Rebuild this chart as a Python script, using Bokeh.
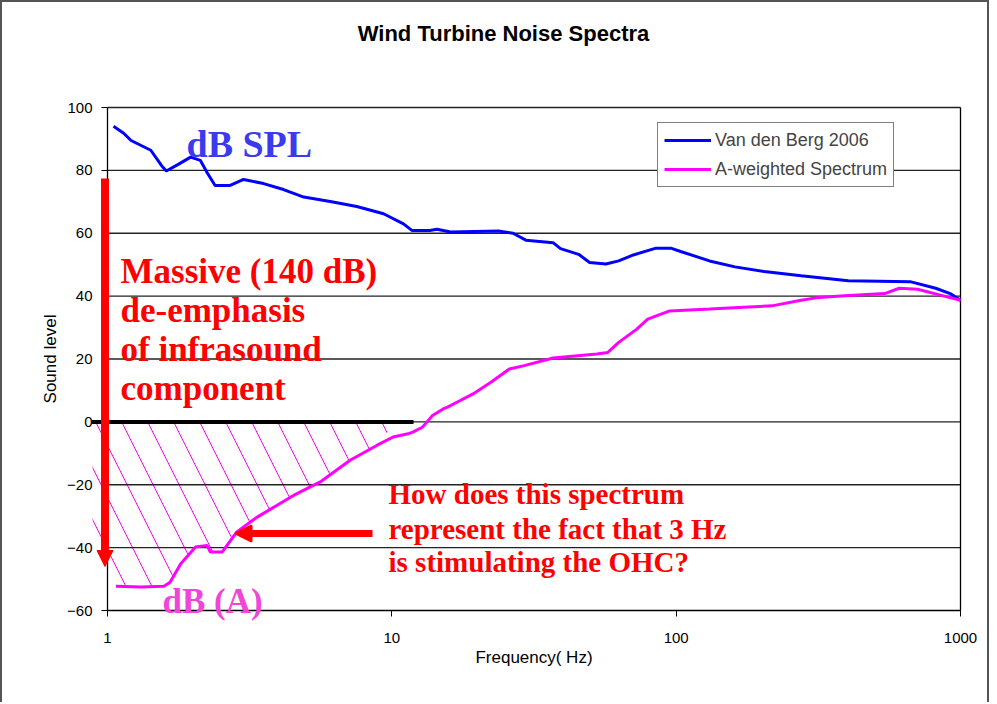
from bokeh.plotting import figure
from bokeh.models import (Arrow, NormalHead, PolyAnnotation, Label, FixedTicker,
                          PrintfTickFormatter, Range1d)
from bokeh.embed import file_html
from bokeh.resources import INLINE

# ---- data ----
vdb_freq = [1.05, 1.14, 1.21, 1.42, 1.55, 1.61, 1.78, 1.96, 2.12, 2.25, 2.39, 2.70,
            3.01, 3.54, 4.16, 4.90, 6.07, 7.53, 9.35, 10.99, 11.76, 13.6, 14.4, 16.1,
            23.7, 26.7, 29.6, 36.9, 39.2, 45.4, 49.6, 56.6, 62.8, 70.7, 84.4, 96.3,
            103.7, 131, 161, 204, 275, 403, 665, 818, 920, 1000]
vdb_level = [94.0, 91.8, 89.5, 86.4, 81.5, 79.8, 82.0, 84.2, 83.2, 79.0, 75.2, 75.2,
             77.1, 75.8, 73.9, 71.5, 70.1, 68.5, 66.2, 63.0, 60.9, 60.9, 61.3, 60.4,
             60.7, 60.0, 57.8, 57.0, 55.1, 53.3, 50.7, 50.2, 51.2, 53.1, 55.2, 55.2,
             54.2, 51.2, 49.3, 47.8, 46.5, 44.9, 44.6, 42.5, 40.8, 38.7]

aw_freq = [1.07, 1.31, 1.58, 1.66, 1.81, 2.04, 2.24, 2.30, 2.53, 2.85, 3.36, 4.51,
           5.60, 7.13, 8.85, 10.1, 11.4, 11.9, 12.8, 13.3, 13.9, 15.2, 15.7, 17.4,
           19.3, 22.3, 25.9, 29.2, 36.9, 52.6, 57.5, 62.8, 72.7, 79.4, 94.9, 131,
           166, 217, 275, 318, 391, 541, 609, 706, 843, 1000]
aw_level = [-52.3, -52.5, -52.3, -51.0, -45.1, -39.8, -39.3, -41.4, -41.4, -35.0, -30.3, -23.4,
            -19.1, -12.2, -7.5, -4.8, -3.8, -3.2, -1.7, 0.0, 2.0, 4.2, 4.7, 6.8,
            8.9, 12.6, 16.8, 17.9, 20.3, 21.6, 22.1, 25.3, 29.5, 32.7, 35.3, 35.9,
            36.4, 36.9, 38.7, 39.6, 40.1, 40.8, 42.5, 42.2, 40.4, 38.7]

hatch_freq = [0.886, 10.3, 8.85, 7.13, 5.60, 4.51, 3.36, 2.85, 2.53, 2.30, 2.24, 2.04,
              1.81, 1.66, 1.58, 1.07, 0.886]
hatch_level = [0, 0, -7.5, -12.2, -19.1, -23.4, -30.3, -35.0, -41.4, -41.4, -39.3, -39.8,
               -45.1, -51.0, -52.3, -52.3, -44]

x_ticks = [1, 10, 100, 1000]
y_ticks = [-60, -40, -20, 0, 20, 40, 60, 80, 100]
grid_levels = [-40, -20, 0, 20, 40, 60, 80, 100]

SERIF = "Liberation Serif"
SANS = "Liberation Sans"

# ---- layout (page pixels) ----
W, H = 989, 702          # canvas size (plus a 2px frame border drawn by CSS)
OFF = 2                  # canvas offset caused by the border
FL, FR, FT, FB = 30, 988, 12, 690    # frame box
PX_F1, PX_F1000 = 107, 960           # x of 1 Hz and 1000 Hz
PX_Y100, PX_YM60 = 107, 610          # y of 100 and -60
decade = (PX_F1000 - PX_F1) / 3.0
upp = 160.0 / (PX_YM60 - PX_Y100)
x_start = 10 ** (-(PX_F1 - FL) / decade)
x_end = 10 ** (3 + (FR - PX_F1000) / decade)
y_end = 100 + (PX_Y100 - FT) * upp
y_start = -60 - (FB - PX_YM60) * upp

def fx(px):
    return 10 ** ((px - PX_F1) / decade)

def fy(py):
    return 100 - (py - PX_Y100) * upp

p = figure(width=W, height=H, x_axis_type="log",
           x_range=Range1d(x_start, x_end), y_range=Range1d(y_start, y_end),
           output_backend="svg", toolbar_location=None,
           min_border_left=FL - OFF, min_border_right=W - (FR - OFF),
           min_border_top=FT - OFF, min_border_bottom=H - (FB - OFF),
           background_fill_color="white", border_fill_color="white")
p.styles = {"border-left": "2px solid #555", "border-top": "2px solid #555",
            "border-right": "2px solid #555"}

p.outline_line_color = None
p.xgrid.visible = False
p.ygrid.visible = False

# horizontal grid lines across the plot area only
p.segment(x0=[x_ticks[0]] * len(grid_levels), x1=[x_ticks[-1]] * len(grid_levels),
          y0=grid_levels, y1=grid_levels, line_color="#222222", line_width=1.3)
# right border of the plot area
p.segment(x0=[x_ticks[-1]], x1=[x_ticks[-1]], y0=[y_ticks[0]], y1=[y_ticks[-1]],
          line_color="black", line_width=1.3)

p.xaxis.ticker = FixedTicker(ticks=x_ticks, minor_ticks=[])
p.xaxis.formatter = PrintfTickFormatter(format="%d")
p.yaxis.ticker = FixedTicker(ticks=y_ticks, minor_ticks=[])
p.xaxis.fixed_location = y_ticks[0]
p.yaxis.fixed_location = x_ticks[0]
p.xaxis.bounds = (x_ticks[0], x_ticks[-1])
p.yaxis.bounds = (y_ticks[0], y_ticks[-1])
for ax in (p.xaxis, p.yaxis):
    ax.axis_line_color = "black"
    ax.axis_line_width = 1.3
    ax.major_tick_line_color = "black"
    ax.major_tick_in = 0
    ax.major_tick_out = 6
    ax.minor_tick_line_color = None
    ax.major_label_text_font = SANS
    ax.major_label_text_font_size = "15px"
    ax.major_label_text_color = "black"
    ax.axis_label_text_font = SANS
    ax.axis_label_text_font_size = "17px"
    ax.axis_label_text_font_style = "normal"
    ax.axis_label_text_color = "black"
p.xaxis.major_label_standoff = 16
p.yaxis.major_label_standoff = 9
p.xaxis.axis_label = "Frequency( Hz)"
p.yaxis.axis_label = "Sound level"
p.xaxis.axis_label_standoff = 2
p.yaxis.axis_label_standoff = 4

# hatched region (hand-drawn in the original)
p.add_layout(PolyAnnotation(xs=hatch_freq, ys=hatch_level, fill_alpha=0,
                            line_color=None, hatch_pattern="left_diagonal_line",
                            hatch_color="#FF00FF", hatch_weight=1, hatch_scale=52,
                            level="underlay"))

p.line(vdb_freq, vdb_level, line_color="#0000FF", line_width=3, legend_label="Van den Berg 2006")
p.line(aw_freq, aw_level, line_color="#FF00FF", line_width=3, legend_label="A-weighted Spectrum")

# black bar along 0 dB
p.add_layout(Arrow(end=None, x_start=fx(91), y_start=0, x_end=fx(413), y_end=0,
                   line_color="black", line_width=4))
# red vertical arrow
p.add_layout(Arrow(end=NormalHead(size=16, fill_color="red", line_color="red"),
                   x_start=fx(104.5), y_start=fy(178), x_end=fx(104.5), y_end=fy(566),
                   line_color="red", line_width=8))
# red horizontal arrow
p.add_layout(Arrow(end=NormalHead(size=16, fill_color="red", line_color="red", line_width=2),
                   x_start=fx(372), y_start=fy(533), x_end=fx(235), y_end=fy(533),
                   line_color="red", line_width=7))

def lab(px, base_py, text, size, color, font=SERIF, style="bold", align="left"):
    # empirical correction: the rendered alphabetic baseline sits ~0.32em low
    py = base_py - 0.32 * size
    p.add_layout(Label(x=fx(px), y=fy(py), text=text, text_font=font,
                       text_font_size=f"{size}px", text_font_style=style,
                       text_color=color, text_align=align, text_baseline="alphabetic"))

lab(503, 40, "Wind Turbine Noise Spectra", 22, "black", font=SANS, align="center")
lab(186, 156, "dB SPL", 38, "#3A3AF0")
lab(162, 612, "dB (A)", 35, "#F045D8")
for by, t in zip([282, 321, 360, 399],
                 ["Massive (140 dB)", "de-emphasis", "of infrasound", "component"]):
    lab(120, by, t, 35, "red")
for by, t in zip([503, 538, 571],
                 ["How does this spectrum", "represent the fact that 3 Hz",
                  "is stimulating the OHC?"]):
    lab(388, by, t, 29, "red")

lg = p.legend[0]
lg.location = (657 - FL, FB - 187)
lg.border_line_color = "black"
lg.border_line_width = 1
lg.background_fill_color = "white"
lg.background_fill_alpha = 1
lg.label_text_font = SANS
lg.label_text_font_size = "18px"
lg.glyph_width = 47
lg.glyph_height = 22
lg.label_height = 22
lg.label_standoff = 4
lg.spacing = 7
lg.padding = 6
lg.margin = 0

open("out.html", "w").write(file_html(p, INLINE))
